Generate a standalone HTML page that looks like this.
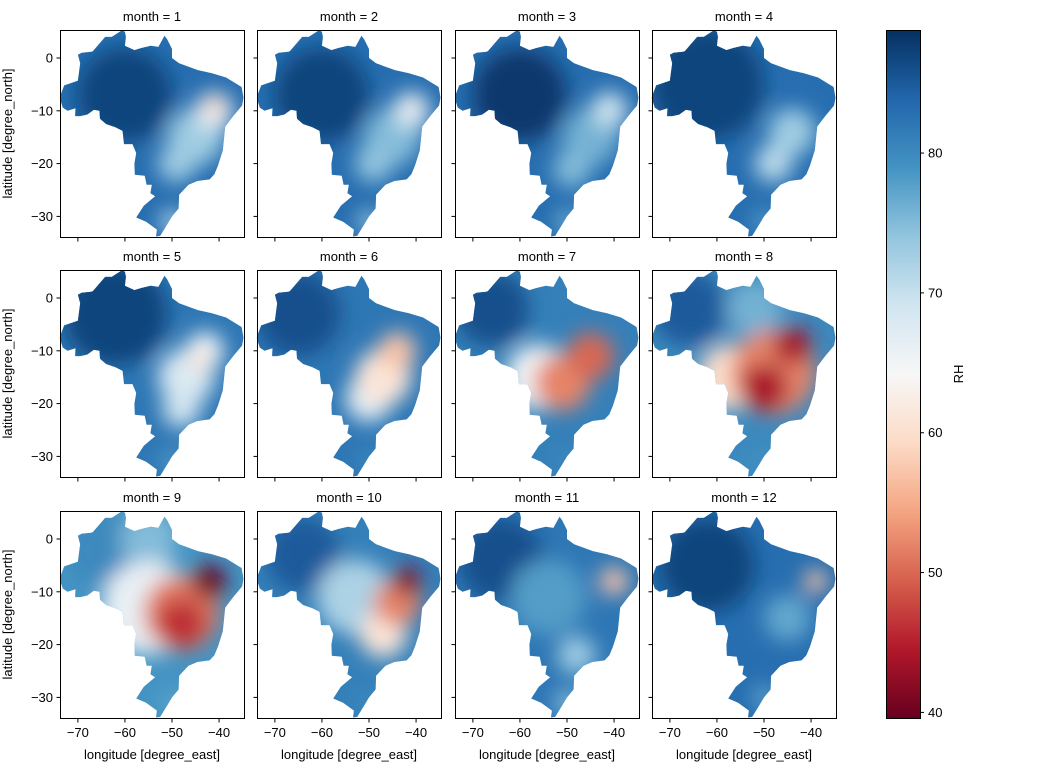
<!DOCTYPE html>
<html><head><meta charset="utf-8">
<style>
html,body{margin:0;padding:0;background:#fff;}
svg text{font-family:"Liberation Sans",sans-serif;font-size:13px;fill:#000;}
</style></head>
<body>
<svg id="fig" width="1043" height="768" viewBox="0 0 1043 768" xmlns="http://www.w3.org/2000/svg">
<defs>
<filter id="blur" x="-50%" y="-50%" width="200%" height="200%"><feGaussianBlur stdDeviation="10"/></filter>
<linearGradient id="cbgrad" x1="0" y1="1" x2="0" y2="0">
<stop offset="0" stop-color="#67001f"/><stop offset="0.1" stop-color="#b2182b"/><stop offset="0.2" stop-color="#d6604d"/><stop offset="0.3" stop-color="#f4a582"/><stop offset="0.4" stop-color="#fddbc7"/><stop offset="0.5" stop-color="#f7f7f7"/><stop offset="0.6" stop-color="#d1e5f0"/><stop offset="0.7" stop-color="#92c5de"/><stop offset="0.8" stop-color="#4393c3"/><stop offset="0.9" stop-color="#2166ac"/><stop offset="1" stop-color="#053061"/>
</linearGradient>
</defs>
</svg>
<script>
// ---- data ----
const months = [1,2,3,4,5,6,7,8,9,10,11,12];
const baseRH = [83,83,83,83,82,82,81,80,79,81,82,83];
// blobs: [lon, lat, radius_deg, RH]
const blobs1 = [[-60,-7,10,87],[-45,-15,6,73],[-49,-20,4,73],[-50,-31,2.5,71],[-41,-10,4,66],[-41,-9,2,58]];
const blobs2 = [[-60,-7,10,87],[-45,-15,6,75],[-49,-20,4,74],[-50,-31,2.5,74],[-41,-10,4,69],[-41,-9,2,63]];
const blobs3 = [[-60,-7,10,88],[-45,-15,6,76],[-49,-21,4,75],[-50,-31,2.5,76],[-41,-10,4,71],[-41,-9,2,67]];
const blobs4 = [[-62,-5,12,87],[-44,-14,5,73],[-48,-20,4,71],[-50,-31,2.5,78]];
const blobs5 = [[-62,-3,11,87],[-47,-15,6,68],[-48,-21,4,69],[-43,-10,4,65],[-44,-12,2,60],[-50,-31,2.5,78]];
const blobs6 = [[-65,-3,9,86],[-50,-19,5,67],[-47,-15,6,61],[-44,-10,4,57],[-50,-31,2.5,80]];
const blobs7 = [[-66,-2,8,86],[-56,-15,7,65],[-51,-16,6,52],[-45,-11,5,50],[-50,-31,2.5,80]];
const blobs8 = [[-66,-2,8,85],[-52,-2,6,76],[-57,-15,7,60],[-48,-14,9,52],[-50,-17,5,44],[-44,-9,4,44],[-50,-31,2.5,79]];
const blobs9 = [[-64,-2,8,80],[-55,0,6,75],[-55,-13,10,66],[-48,-14,8,51],[-48,-16,5,46],[-42,-8,3.5,40],[-50,-31,2.5,77]];
const blobs10 = [[-64,-3,8,85],[-53,-11,8,72],[-47,-18,5,61],[-44,-12,5,52],[-42,-8,3,42],[-50,-31,2.5,80]];
const blobs11 = [[-64,-4,9,86],[-54,-11,8,78],[-48,-22,4,73],[-40,-8,3,57],[-50,-31,2.5,74]];
const blobs12 = [[-62,-5,10,87],[-45,-15,5,77],[-50,-30,2.5,77],[-39,-8,2.5,57]];
const allBlobs = [blobs1,blobs2,blobs3,blobs4,blobs5,blobs6,blobs7,blobs8,blobs9,blobs10,blobs11,blobs12];
const xTicks = [-70,-60,-50,-40];
const yTicks = [0,-10,-20,-30];
const cbTicks = [40,50,60,70,80];
const brazil = [[-73.9,-7.5],[-72.9,-5.2],[-70.0,-4.3],[-69.5,-1.0],[-70.0,0.6],[-69.2,1.0],[-67.1,1.2],[-66.8,1.3],[-64.2,4.0],[-62.8,4.0],[-60.7,5.2],[-60.0,5.0],[-59.8,4.0],[-60.0,2.3],[-58,1.5],[-56.5,1.9],[-54.5,2.3],[-52.9,2.1],[-51.6,4.2],[-51.0,3.5],[-50.0,1.7],[-50,0],[-48.5,-1.0],[-44.5,-2.3],[-41.5,-2.9],[-38.5,-3.7],[-35.2,-5.5],[-34.8,-7.5],[-35.1,-9.0],[-37,-11],[-38.7,-13.0],[-39.2,-17.5],[-40.2,-20.3],[-41.0,-22.0],[-42.0,-23.0],[-44.6,-23.3],[-46.5,-24.0],[-48.5,-25.9],[-48.6,-28.5],[-50.0,-30.0],[-51.0,-31.5],[-52.5,-33.7],[-53.4,-33.8],[-53.2,-32.5],[-55.5,-31.0],[-57.6,-30.2],[-56.0,-28.0],[-53.6,-26.2],[-54.6,-25.6],[-54.3,-24.0],[-55.4,-24.0],[-55.8,-22.3],[-57.9,-22.1],[-58.0,-20.0],[-57.6,-18.0],[-58.4,-16.3],[-60.2,-16.3],[-60.5,-13.8],[-62.0,-13.1],[-64.0,-12.5],[-65.3,-11.5],[-65.4,-10.0],[-66.6,-9.8],[-68.0,-10.7],[-69.5,-11.0],[-70.6,-11.0],[-70.5,-9.5],[-72.2,-10.0],[-73.2,-9.4]];

// ---- layout ----
const NS="http://www.w3.org/2000/svg";
const svg=document.getElementById('fig');
const defs=svg.querySelector('defs');
const colX=[60,257,455,652], rowY=[30,270,511], PW=184, PH=207;
const lonMin=-73.8, lonMax=-34.7, latMin=-33.9, latMax=5.3;
const vmin=39.6, vmax=88.8;
const stops=[[0,[0x67,0x00,0x1f]],[0.1,[0xb2,0x18,0x2b]],[0.2,[0xd6,0x60,0x4d]],[0.3,[0xf4,0xa5,0x82]],[0.4,[0xfd,0xdb,0xc7]],[0.5,[0xf7,0xf7,0xf7]],[0.6,[0xd1,0xe5,0xf0]],[0.7,[0x92,0xc5,0xde]],[0.8,[0x43,0x93,0xc3]],[0.9,[0x21,0x66,0xac]],[1,[0x05,0x30,0x61]]];
function cmap(v){let t=Math.max(0,Math.min(1,(v-vmin)/(vmax-vmin)));
 for(let i=1;i<stops.length;i++){if(t<=stops[i][0]){const a=stops[i-1],b=stops[i];const f=(t-a[0])/(b[0]-a[0]);
  const c=a[1].map((x,k)=>Math.round(x+(b[1][k]-x)*f));return `rgb(${c[0]},${c[1]},${c[2]})`;}}return 'rgb(5,48,97)';}
function el(tag,attrs,parent){const e=document.createElementNS(NS,tag);for(const k in attrs)e.setAttribute(k,attrs[k]);(parent||svg).appendChild(e);return e;}

months.forEach((m,i)=>{
 const r=Math.floor(i/4), c=i%4, x0=colX[c], y0=rowY[r];
 const sx=lon=>x0+(lon-lonMin)/(lonMax-lonMin)*PW;
 const sy=lat=>y0+(latMax-lat)/(latMax-latMin)*PH;
 const pxPerDeg=PW/(lonMax-lonMin);
 const g=el('g',{});
 
 
 const cp=el('clipPath',{id:'clip'+m},defs);
 el('polygon',{points:brazil.map(p=>sx(p[0]).toFixed(1)+','+sy(p[1]).toFixed(1)).join(' ')},cp);
 const map=el('g',{'clip-path':'url(#clip'+m+')'},g);
 
 
 el('rect',{x:x0,y:y0,width:PW,height:PH,fill:cmap(baseRH[i])},map);
 const bg=el('g',{filter:'url(#blur)'},map);
 allBlobs[i].forEach(b=>{
  const cc=el('circle',{cx:sx(b[0]),cy:sy(b[1]),r:b[2]*pxPerDeg,fill:cmap(b[3])},bg);
  
  
 });
 const fr=el('rect',{x:x0+0.5,y:y0+0.5,width:PW,height:PH,fill:'none',stroke:'#000','stroke-width':1},g);
 
 
 const t=el('text',{x:x0+PW/2,y:y0-9,'text-anchor':'middle'},g);
 t.textContent='month = '+m;
 
 
 xTicks.forEach(v=>{const X=sx(v);el('line',{x1:X,x2:X,y1:y0+PH+0.5,y2:y0+PH+4.5,stroke:'#000'},g);
  if(r===2){const tl=el('text',{x:X,y:y0+PH+19,'text-anchor':'middle'},g);tl.textContent='\u2212'+Math.abs(v);
   
   }});
 yTicks.forEach(v=>{const Y=sy(v);el('line',{x1:x0-3.5,x2:x0+0.5,y1:Y,y2:Y,stroke:'#000'},g);
  if(c===0){const tl=el('text',{x:x0-7,y:Y+4.5,'text-anchor':'end'},g);tl.textContent=v===0?'0':'\u2212'+Math.abs(v);
   
   }});
 if(r===2){const xl=el('text',{x:x0+PW/2,y:y0+PH+41,'text-anchor':'middle'},g);xl.textContent='longitude [degree_east]';
  
  }
 if(c===0){const yl=el('text',{x:0,y:0,'text-anchor':'middle',transform:`translate(12,${y0+PH/2}) rotate(-90)`},g);yl.textContent='latitude [degree_north]';
  
  }
});

// colorbar
const cbX=886, cbY=30, cbW=34, cbH=688;
const cb=el('g',{});


el('rect',{x:cbX,y:cbY,width:cbW,height:cbH,fill:'url(#cbgrad)'},cb);
el('rect',{x:cbX+0.5,y:cbY+0.5,width:cbW,height:cbH,fill:'none',stroke:'#000'},cb);
const cy=v=>cbY+cbH-(v-vmin)/(vmax-vmin)*cbH;
cbTicks.forEach(v=>{const Y=cy(v);el('line',{x1:cbX+cbW,x2:cbX+cbW+4,y1:Y,y2:Y,stroke:'#000'},cb);
 const tl=el('text',{x:cbX+cbW+8,y:Y+4.5},cb);tl.textContent=v;
 
 });
const cl=el('text',{x:0,y:0,'text-anchor':'middle',transform:`translate(963,${cbY+cbH/2}) rotate(-90)`},cb);
cl.textContent='RH';


</script>
</body></html>
